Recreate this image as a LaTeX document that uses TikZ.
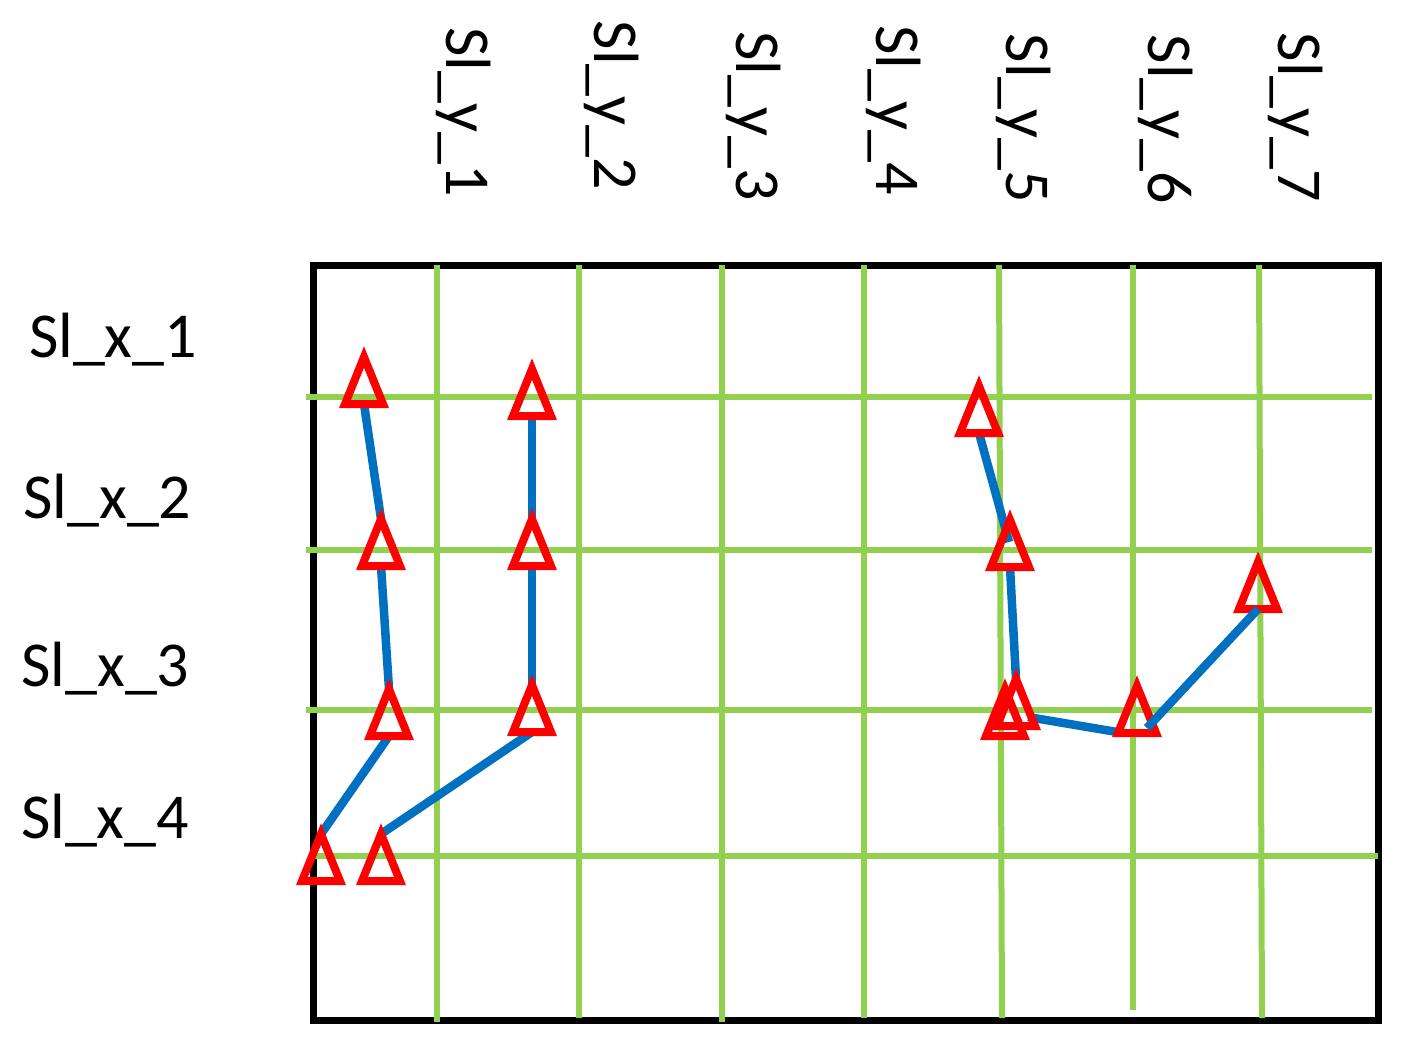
\documentclass[tikz,border=0pt]{standalone}
\usepackage{fontspec}
\setmainfont{Carlito}
\definecolor{grn}{HTML}{92D050}
\definecolor{blu}{HTML}{0070C0}
\newcommand{\tri}[3]{%
  \coordinate (#1-a) at (#2,#3);
  \coordinate (#1-b) at (#2,#3+47);
  \coordinate (#1-l) at (#2-19,#3+47);
  \coordinate (#1-m) at (#2,#3+22);
  \draw[trimark] (#2,#3) -- ++(19,47) -- ++(-38,0) -- cycle;}
\begin{document}
\begin{tikzpicture}[x=1pt,y=-1pt,
  frame/.style={draw=black,line width=7pt},
  gridline/.style={draw=grn,line width=6pt},
  link/.style={draw=blu,line width=8.5pt},
  trimark/.style={draw=red,line width=8pt,line join=miter},
  lab/.style={font=\fontsize{64}{64}\selectfont,inner sep=0pt}]
\useasboundingbox (0,0) rectangle (1402,1044);

% labels
\node[lab] (lx1) at (113,340) {Sl\_x\_1};
\node[lab] (lx2) at (107.5,501) {Sl\_x\_2};
\node[lab] (lx3) at (105.5,669) {Sl\_x\_3};
\node[lab] (lx4) at (105,821) {Sl\_x\_4};
\node[lab,rotate=-90] (ly1) at (463.5,112) {Sl\_y\_1};
\node[lab,rotate=-90] (ly2) at (611.5,105.5) {Sl\_y\_2};
\node[lab,rotate=-90] (ly3) at (753.5,116) {Sl\_y\_3};
\node[lab,rotate=-90] (ly4) at (893.5,110) {Sl\_y\_4};
\node[lab,rotate=-90] (ly5) at (1023.5,118.5) {Sl\_y\_5};
\node[lab,rotate=-90] (ly6) at (1165.5,119.5) {Sl\_y\_6};
\node[lab,rotate=-90] (ly7) at (1295.5,117.5) {Sl\_y\_7};

% frame
\draw[frame] (313,265) rectangle (1378,1020);

% grid
\draw[gridline] (437,265) -- (437,1022);
\draw[gridline] (579,265) -- (579,1018);
\draw[gridline] (722,265) -- (722,1022);
\draw[gridline] (864,265) -- (864,1018);
\draw[gridline] (999,265) -- (1002,1018);
\draw[gridline] (1133,265) -- (1133,1010);
\draw[gridline] (1259,265) -- (1262,1018);
\draw[gridline] (306,397) -- (1372,397);
\draw[gridline] (306,550) -- (1372,550);
\draw[gridline] (306,710) -- (1372,710);
\draw[gridline] (311,856) -- (1378,856);

% connector end points
\coordinate (A1-b) at (364,404);
\coordinate (A2-a) at (381,519);
\coordinate (A2-b) at (381,566);
\coordinate (A3-a) at (389,689);
\coordinate (A3-b) at (389,736);
\coordinate (A4-a) at (321,834);
\coordinate (B1-b) at (532,416);
\coordinate (B2-a) at (532,519);
\coordinate (B2-b) at (532,566);
\coordinate (B3-a) at (532,685);
\coordinate (B3-b) at (532,732);
\coordinate (B4-a) at (381,834);
\coordinate (C1-b) at (979,433);
\coordinate (C2-m) at (1009,542);
\coordinate (C2-b) at (1010,567);
\coordinate (C3-a) at (1016,679);
\coordinate (C3-r) at (1028,717);
\coordinate (C4-l) at (1117,732);
\coordinate (C4-r) at (1147,728);
\coordinate (C5-b) at (1257,608);

% connectors
\draw[link] (A1-b) -- (A2-a);
\draw[link] (A2-b) -- (A3-a);
\draw[link] (A3-b) -- (A4-a);
\draw[link] (B1-b) -- (B2-a);
\draw[link] (B2-b) -- (B3-a);
\draw[link] (B3-b) -- (B4-a);
\draw[link] (C1-b) -- (C2-m);
\draw[link] (C2-b) -- (C3-a);
\draw[link] (C3-r) -- (C4-l);

% markers
\tri{A1}{364}{357}
\tri{A2}{381}{519}
\tri{A3}{389}{689}
\tri{A4}{321}{834}
\tri{B1}{532}{369}
\tri{B2}{532}{519}
\tri{B3}{532}{685}
\tri{B4}{381}{834}
\tri{C1}{979}{386}
\tri{C2}{1010}{520}
\tri{C3}{1016}{679}
\tri{C3b}{1005}{689}
\tri{C4}{1137}{686}
\tri{C5}{1258}{562}

\draw[link] (C4-r) -- (C5-b);
\end{tikzpicture}
\end{document}
